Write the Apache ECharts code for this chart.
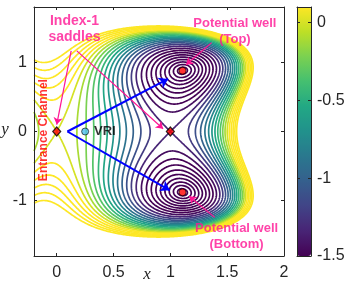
<!DOCTYPE html>
<html><head><meta charset="utf-8">
<script src="https://cdn.jsdelivr.net/npm/echarts@6/dist/echarts.min.js"></script>
<style>html,body{margin:0;padding:0;background:#fff}#c{width:348px;height:284px}</style>
</head><body><div id="c"></div>
<script>
// ---- data ----
const xRange = [-0.2, 2];
const yRange = [-1.8, 1.8];
const xTicks = [0, 0.5, 1, 1.5, 2];
const yTicks = [-1, 0, 1];
const cbRange = [-1.5, 0.1];
const cbTicks = [-1.5, -1, -0.5, 0];
// contour levels of the potential energy surface (denser inside the wells)
const levels = [-1.9386, -1.9181, -1.8859, -1.8421, -1.7865, -1.7193, -1.6403, -1.5497,
  -1.4473, -1.3333, -1.2222, -1.1111, -1.0, -0.8889, -0.7778, -0.6667, -0.5556,
  -0.4444, -0.3333, -0.2222, -0.1111, 0, 0.1111, 0.2222, 0.3333, 0.4444, 0.5556];
// critical points
const saddles = [[0, 0], [1, 0]];
const wells = [[1.107, 0.879], [1.107, -0.879]];
const vri = [[0.25, 0]];
// annotation arrows [from, to]
const pinkArrows = [
  [[0.127, 1.165], [0.0, 0.10]],
  [[0.177, 1.165], [0.936, 0.04]],
  [[1.363, 1.285], [1.138, 0.964]],
  [[1.39, -1.242], [1.165, -0.935]]
];
const blueArrows = [
  [[0.094, 0], [0.98, 0.76]],
  [[0.094, 0], [0.995, -0.85]]
];
const labels = [
  { text: 'Index-1\nsaddles', at: [0.156, 1.478], color: '#ff1493', size: 14, rotate: 0 },
  { text: 'Potential well\n(Top)', at: [1.568, 1.446], color: '#ff1493', size: 13, rotate: 0 },
  { text: 'Potential well\n(Bottom)', at: [1.583, -1.514], color: '#ff1493', size: 13, rotate: 0 },
  { text: 'Entrance Channel', at: [-0.119, 0.02], color: '#ff0000', size: 12, rotate: 90 }
];
const viridis = ['#440154', '#482475', '#414487', '#355f8d', '#2a788e', '#21918c',
  '#22a884', '#44bf70', '#7ad151', '#bddf26', '#fde725'];

// model potential surface whose contours are drawn
function potential(x, y) {
  return 8 / 3 * x * x * x - 4 * x * x + 0.5 * y * y + x * y * y * (y * y - 2);
}

// ---- sampling + marching squares ----
const step = 0.01;
const nx = Math.round((xRange[1] - xRange[0]) / step) + 1;
const ny = Math.round((yRange[1] - yRange[0]) / step) + 1;
const gx = [], gy = [];
for (let i = 0; i < nx; i++) gx.push(xRange[0] + i * step);
for (let j = 0; j < ny; j++) gy.push(yRange[0] + j * step);
const F = [];
for (let j = 0; j < ny; j++) {
  const row = new Float64Array(nx);
  for (let i = 0; i < nx; i++) row[i] = potential(gx[i], gy[j]);
  F.push(row);
}

function contour(level) {
  const segs = [];
  function pt(edge, i, j) {
    let a, b, t;
    if (edge === 0) { a = F[j][i]; b = F[j][i + 1]; t = (level - a) / (b - a); return ['h' + i + '_' + j, [gx[i] + t * step, gy[j]]]; }
    if (edge === 1) { a = F[j][i + 1]; b = F[j + 1][i + 1]; t = (level - a) / (b - a); return ['v' + (i + 1) + '_' + j, [gx[i + 1], gy[j] + t * step]]; }
    if (edge === 2) { a = F[j + 1][i]; b = F[j + 1][i + 1]; t = (level - a) / (b - a); return ['h' + i + '_' + (j + 1), [gx[i] + t * step, gy[j + 1]]]; }
    a = F[j][i]; b = F[j + 1][i]; t = (level - a) / (b - a); return ['v' + i + '_' + j, [gx[i], gy[j] + t * step]];
  }
  for (let j = 0; j < ny - 1; j++) {
    for (let i = 0; i < nx - 1; i++) {
      const c00 = F[j][i] >= level, c10 = F[j][i + 1] >= level, c11 = F[j + 1][i + 1] >= level, c01 = F[j + 1][i] >= level;
      const e = [];
      if (c00 !== c10) e.push(0);
      if (c10 !== c11) e.push(1);
      if (c11 !== c01) e.push(2);
      if (c01 !== c00) e.push(3);
      if (e.length === 2) segs.push([pt(e[0], i, j), pt(e[1], i, j)]);
      else if (e.length === 4) {
        const cc = (F[j][i] + F[j][i + 1] + F[j + 1][i + 1] + F[j + 1][i]) / 4 >= level;
        const pairs = [];
        if (c00 !== cc) pairs.push([0, 3]);
        if (c10 !== cc) pairs.push([0, 1]);
        if (c11 !== cc) pairs.push([1, 2]);
        if (c01 !== cc) pairs.push([2, 3]);
        pairs.forEach(p => segs.push([pt(p[0], i, j), pt(p[1], i, j)]));
      }
    }
  }
  const map = new Map();
  segs.forEach((s, k) => {
    for (const end of [0, 1]) {
      const key = s[end][0];
      if (!map.has(key)) map.set(key, []);
      map.get(key).push(k);
    }
  });
  const used = new Uint8Array(segs.length);
  const out = [];
  for (let k = 0; k < segs.length; k++) {
    if (used[k]) continue;
    used[k] = 1;
    const pts = [segs[k][0][1], segs[k][1][1]];
    let key = segs[k][1][0];
    while (true) {
      const cand = (map.get(key) || []).find(m => !used[m]);
      if (cand === undefined) break;
      used[cand] = 1;
      const s = segs[cand];
      const other = s[0][0] === key ? s[1] : s[0];
      pts.push(other[1]); key = other[0];
    }
    key = segs[k][0][0];
    while (true) {
      const cand = (map.get(key) || []).find(m => !used[m]);
      if (cand === undefined) break;
      used[cand] = 1;
      const s = segs[cand];
      const other = s[0][0] === key ? s[1] : s[0];
      pts.unshift(other[1]); key = other[0];
    }
    out.push(pts);
  }
  return out;
}

function hex2rgb(h) { return [parseInt(h.slice(1, 3), 16), parseInt(h.slice(3, 5), 16), parseInt(h.slice(5, 7), 16)]; }
function cmap(v) {
  let t = (v - cbRange[0]) / (cbRange[1] - cbRange[0]);
  t = Math.max(0, Math.min(1, t));
  const n = viridis.length - 1;
  const f = t * n;
  const k = Math.min(Math.floor(f), n - 1);
  const r = f - k;
  const a = hex2rgb(viridis[k]), b = hex2rgb(viridis[k + 1]);
  return 'rgb(' + a.map((c, i) => Math.round(c + (b[i] - c) * r)).join(',') + ')';
}

const axisColor = '#262626';
const tickFont = { fontFamily: 'Liberation Sans', fontSize: 16, color: axisColor };

const series = [];
levels.forEach(lv => {
  series.push({
    type: 'lines', coordinateSystem: 'cartesian2d', xAxisIndex: 0, yAxisIndex: 0,
    polyline: true, silent: true, z: 2, largeThreshold: 1e9,
    lineStyle: { color: cmap(lv), width: 1.7, opacity: 1 },
    data: contour(lv).map(c => ({ coords: c }))
  });
});
series.push({
  type: 'lines', coordinateSystem: 'cartesian2d', xAxisIndex: 0, yAxisIndex: 0, z: 5, silent: true,
  symbol: ['none', 'arrow'], symbolSize: 7,
  lineStyle: { color: '#ff1493', width: 1.2, opacity: 1 },
  data: pinkArrows.map(a => ({ coords: a }))
});
series.push({
  type: 'lines', coordinateSystem: 'cartesian2d', xAxisIndex: 0, yAxisIndex: 0, z: 5, silent: true,
  symbol: ['none', 'arrow'], symbolSize: 9,
  lineStyle: { color: '#0000ff', width: 2, opacity: 1 },
  data: blueArrows.map(a => ({ coords: a }))
});
series.push({
  type: 'scatter', xAxisIndex: 0, yAxisIndex: 0, z: 6, silent: true,
  symbol: 'diamond', symbolSize: [8, 9],
  itemStyle: { color: '#ff0000', borderColor: '#000', borderWidth: 1.2 },
  data: saddles
});
series.push({
  type: 'scatter', xAxisIndex: 0, yAxisIndex: 0, z: 6, silent: true,
  symbol: 'circle', symbolSize: 7,
  itemStyle: { color: '#ff0000', borderColor: '#000', borderWidth: 0.8 },
  data: wells
});
series.push({
  type: 'scatter', xAxisIndex: 0, yAxisIndex: 0, z: 6, silent: true,
  symbol: 'circle', symbolSize: 7,
  itemStyle: { color: '#4dbeee', borderColor: '#000', borderWidth: 0.8 },
  label: { show: true, position: 'right', distance: 5, formatter: 'VRI', color: '#000',
    fontFamily: 'Liberation Sans', fontWeight: 'bold', fontSize: 13 },
  data: vri
});
series.push({
  type: 'scatter', xAxisIndex: 0, yAxisIndex: 0, z: 7, silent: true,
  symbolSize: 1, itemStyle: { color: 'transparent' },
  data: labels.map(l => ({
    value: l.at,
    label: { show: true, position: 'inside', formatter: l.text, color: l.color, rotate: l.rotate,
      fontFamily: 'Liberation Sans', fontWeight: 'bold', fontSize: l.size, lineHeight: 16, align: 'center' }
  }))
});
series.push({ type: 'scatter', xAxisIndex: 2, yAxisIndex: 2, data: [], silent: true });
const dummyIndex = series.length - 1;

function mainAxis(pos, ticks, showLabel, range, grid) {
  return {
    gridIndex: grid, type: 'value', position: pos, min: range[0], max: range[1], z: 10,
    axisLine: { show: true, onZero: false, lineStyle: { color: axisColor, width: 1 } },
    axisTick: { show: true, inside: true, length: 3, customValues: ticks, lineStyle: { color: axisColor } },
    axisLabel: Object.assign({ show: showLabel, customValues: ticks, margin: pos === 'bottom' ? 9 : 7 }, tickFont),
    splitLine: { show: false }
  };
}

const option = {
  animation: false,
  backgroundColor: '#fff',
  grid: [
    { left: 34, top: 7, width: 250, height: 249 },
    { left: 297, top: 7, width: 14, height: 249 }
  ],
  xAxis: [
    mainAxis('bottom', xTicks, true, xRange, 0),
    mainAxis('top', xTicks, false, xRange, 0),
    { gridIndex: 1, type: 'value', min: 0, max: 1, position: 'bottom', z: 10,
      axisLine: { show: true, onZero: false, lineStyle: { color: axisColor } }, axisTick: { show: false }, axisLabel: { show: false }, splitLine: { show: false } },
    { gridIndex: 1, type: 'value', min: 0, max: 1, position: 'top', z: 10,
      axisLine: { show: true, onZero: false, lineStyle: { color: axisColor } }, axisTick: { show: false }, axisLabel: { show: false }, splitLine: { show: false } }
  ],
  yAxis: [
    mainAxis('left', yTicks, true, yRange, 0),
    mainAxis('right', yTicks, false, yRange, 0),
    Object.assign(mainAxis('right', cbTicks, true, cbRange, 1), { axisLabel: Object.assign({ show: true, customValues: cbTicks, margin: 6 }, tickFont) }),
    mainAxis('left', cbTicks, false, cbRange, 1)
  ],
  visualMap: {
    type: 'continuous', min: cbRange[0], max: cbRange[1], seriesIndex: dummyIndex,
    left: 297, top: 7, itemWidth: 14, itemHeight: 249, padding: 0,
    calculable: false, hoverLink: false, realtime: false, text: null, showLabel: false,
    inRange: { color: viridis }, z: 4
  },
  graphic: [
    { type: 'text', x: 147, y: 275, z: 20, style: { text: 'x', font: 'italic 17px "Liberation Serif"', fill: axisColor, align: 'center', verticalAlign: 'middle' } },
    { type: 'text', x: 5, y: 130, z: 20, style: { text: 'y', font: 'italic 17px "Liberation Serif"', fill: axisColor, align: 'center', verticalAlign: 'middle' } }
  ],
  series: series
};
const chart = echarts.init(document.getElementById('c'), null, { renderer: 'canvas' });
chart.setOption(option);
</script></body></html>
